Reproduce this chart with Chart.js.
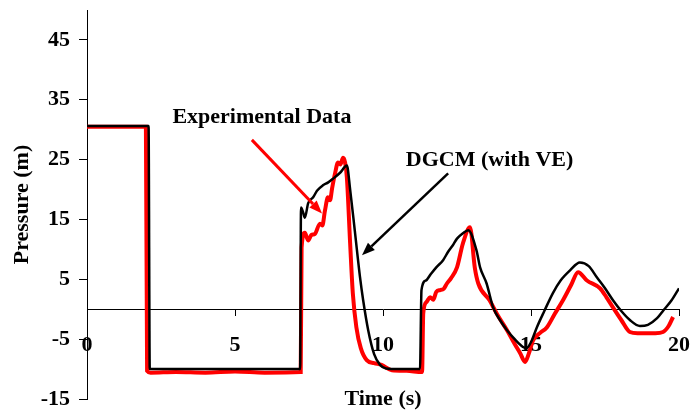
<!DOCTYPE html>
<html>
<head>
<meta charset="utf-8">
<script src="https://cdn.jsdelivr.net/npm/chart.js@4/dist/chart.umd.min.js"></script>
<style>
  html, body { margin: 0; padding: 0; background: #fff; }
</style>
</head>
<body>
<canvas id="graph" width="691" height="412"></canvas>
<script>
const FONT = '"Liberation Serif", "Times New Roman", serif';

// DGCM model (with VE)
var modelTime = [0, 2.08, 2.12, 7.2, 7.23, 7.3, 7.36, 7.47, 7.64, 7.77, 7.97, 8.15, 8.31, 8.55, 8.78,
  8.89, 9.05, 9.22, 9.33, 9.5, 9.7, 9.9, 10.1, 10.5, 11.25, 11.3, 11.45, 11.59, 11.8, 12.03, 12.2,
  12.36, 12.5, 12.7, 12.88, 13.16, 13.28, 13.5, 13.72, 13.95, 14.19, 14.45, 14.73, 14.85, 15.0,
  15.2, 15.45, 15.74, 16.0, 16.32, 16.65, 16.95, 17.23, 17.5, 17.77, 18.05, 18.34, 18.68, 18.95,
  19.26, 19.47, 19.75, 20];
var modelPressure = [30.6, 30.6, -10, -10, 17, 16.2, 15.3, 17.7, 18.7, 19.8, 20.7, 21.2, 21.8, 22.8, 24,
  20, 13, 5.5, 1.5, -3.5, -7.5, -9.3, -9.9, -10, -10, 3.2, 4.8, 5.7, 7, 8.2, 9.6,
  10.7, 11.8, 12.7, 13.2, 9.8, 7, 4.3, 0.3, -1.8, -3.5, -5, -6.3, -6.5, -5.5,
  -3, -0.3, 2.7, 4.8, 6.5, 7.8, 7.2, 5.3, 3.5, 1.5, -0.3, -1.8, -2.8, -2.6,
  -1.5, -0.2, 1.5, 3.5];

// experimental record
var expTime = [0, 1.99, 2.03, 2.15, 3, 4, 5, 6, 7.22, 7.25, 7.36, 7.47, 7.58, 7.7, 7.87, 7.95, 8.04,
  8.14, 8.21, 8.28, 8.38, 8.48, 8.56, 8.65, 8.72, 8.78, 8.89, 8.98, 9.1, 9.25, 9.45, 9.7, 9.95,
  10.3, 10.8, 11.32, 11.36, 11.47, 11.59, 11.7, 11.8, 11.93, 12.05, 12.16, 12.3, 12.5, 12.7, 12.94,
  13.1, 13.22, 13.6, 13.85, 14.19, 14.45, 14.63, 14.8, 14.92, 15.07, 15.3, 15.54, 15.8, 16.08,
  16.35, 16.59, 16.89, 17.33, 17.55, 17.77, 18.05, 18.34, 18.6, 18.9, 19.2, 19.46, 19.65, 19.8];
var expPressure = [30.5, 30.5, -10.3, -10.6, -10.5, -10.6, -10.4, -10.6, -10.5, 10.3, 12.8, 11.5, 12.4, 12.6, 14.3, 14, 16.5,
  18.7, 18.2, 20.2, 22.7, 24.5, 24.2, 25.3, 24.5, 22, 11, 2.7, -3, -6.5, -8.5, -9, -9.3,
  -10.2, -10.3, -10.5, -0.7, 1.2, 2, 1.6, 2.9, 3.2, 3.4, 4.3, 5.2, 7, 11, 13.7,
  7, 4.3, 1.5, -0.8, -3.5, -5.8, -7.3, -8.8, -7.5, -5.2, -4, -3, -0.8, 1.5,
  4, 6.2, 4.8, 3.5, 2, 0.3, -1.8, -3.8, -4, -4, -4, -3.8, -2.8, -1.3];

var xTicks = [0, 5, 10, 15, 20];
var yTicks = [-15, -5, 5, 15, 25, 35, 45];

// callout labels with their arrows (data units)
var callouts = [
  {text: "Experimental Data", color: "red", at: [5.91, 32], from: [5.57, 28.3], to: [7.94, 16]},
  {text: "DGCM (with VE)", color: "black", at: [13.6, 24.8], from: [12.2, 22.7], to: [9.29, 9.0]}
];

function pairs(xs, ys) {
  return xs.map((x, i) => ({x: x, y: ys[i]}));
}

function arrow(ctx, x1, y1, x2, y2, color, width) {
  var a = Math.atan2(y2 - y1, x2 - x1);
  var len = 13, half = 5;
  ctx.strokeStyle = color;
  ctx.fillStyle = color;
  ctx.lineWidth = width;
  ctx.beginPath();
  ctx.moveTo(x1, y1);
  ctx.lineTo(x2 - len * Math.cos(a), y2 - len * Math.sin(a));
  ctx.stroke();
  ctx.beginPath();
  ctx.moveTo(x2, y2);
  ctx.lineTo(x2 - len * Math.cos(a) + half * Math.sin(a), y2 - len * Math.sin(a) - half * Math.cos(a));
  ctx.lineTo(x2 - len * Math.cos(a) - half * Math.sin(a), y2 - len * Math.sin(a) + half * Math.cos(a));
  ctx.closePath();
  ctx.fill();
}

var labelPlugin = {
  id: "labels",
  afterDraw(chart) {
    var ctx = chart.ctx, xs = chart.scales.x, ys = chart.scales.y, area = chart.chartArea;
    ctx.save();
    ctx.font = "bold 22px " + FONT;
    ctx.fillStyle = "black";
    ctx.textAlign = "center";
    ctx.textBaseline = "middle";
    ctx.fillText("Time (s)", (area.left + area.right) / 2, area.bottom);
    callouts.forEach(c => {
      ctx.fillStyle = "black";
      ctx.fillText(c.text, xs.getPixelForValue(c.at[0]), ys.getPixelForValue(c.at[1]));
      arrow(ctx, xs.getPixelForValue(c.from[0]), ys.getPixelForValue(c.from[1]),
            xs.getPixelForValue(c.to[0]), ys.getPixelForValue(c.to[1]), c.color, c.color == "red" ? 3 : 2.5);
    });
    ctx.restore();
  }
};

new Chart("graph", {
  type: "line",
  data: {
    datasets: [{
      label: "DGCM (with VE)",
      data: pairs(modelTime, modelPressure),
      borderColor: "black",
      borderWidth: 2.5,
      pointRadius: 0,
      cubicInterpolationMode: "monotone",
      order: 0
    }, {
      label: "Experimental Data",
      data: pairs(expTime, expPressure),
      borderColor: "red",
      borderWidth: 4,
      pointRadius: 0,
      cubicInterpolationMode: "monotone",
      order: 1
    }]
  },
  options: {
    responsive: false,
    animation: false,
    layout: {padding: {top: 10, right: 12, bottom: 13, left: 0}},
    plugins: {legend: {display: false}, tooltip: {enabled: false}},
    scales: {
      x: {
        type: "linear",
        position: {y: 0},
        min: 0,
        max: 20,
        afterFit: s => { s.height = 0; s.paddingLeft = 0; s.paddingRight = 0; },
        afterBuildTicks: s => { s.ticks = xTicks.map(v => ({value: v})); },
        grid: {drawOnChartArea: false, tickLength: 6, color: "black"},
        border: {color: "black", width: 1},
        ticks: {font: {family: FONT, size: 22, weight: "bold"}, color: "black", padding: 17, maxRotation: 0, autoSkip: false}
      },
      y: {
        position: "left",
        min: -15,
        max: 50,
        afterFit: s => { s.width = 87; s.paddingTop = 0; s.paddingBottom = 0; },
        afterBuildTicks: s => { s.ticks = yTicks.map(v => ({value: v})); },
        grid: {drawOnChartArea: false, tickLength: 8, color: "black"},
        border: {color: "black", width: 1},
        ticks: {font: {family: FONT, size: 22, weight: "bold"}, color: "black", padding: 9},
        title: {display: true, text: "Pressure (m)", color: "black", font: {family: FONT, size: 22, weight: "bold"}, padding: {top: 9, bottom: 0}}
      }
    }
  },
  plugins: [labelPlugin]
});
</script>
</body>
</html>
